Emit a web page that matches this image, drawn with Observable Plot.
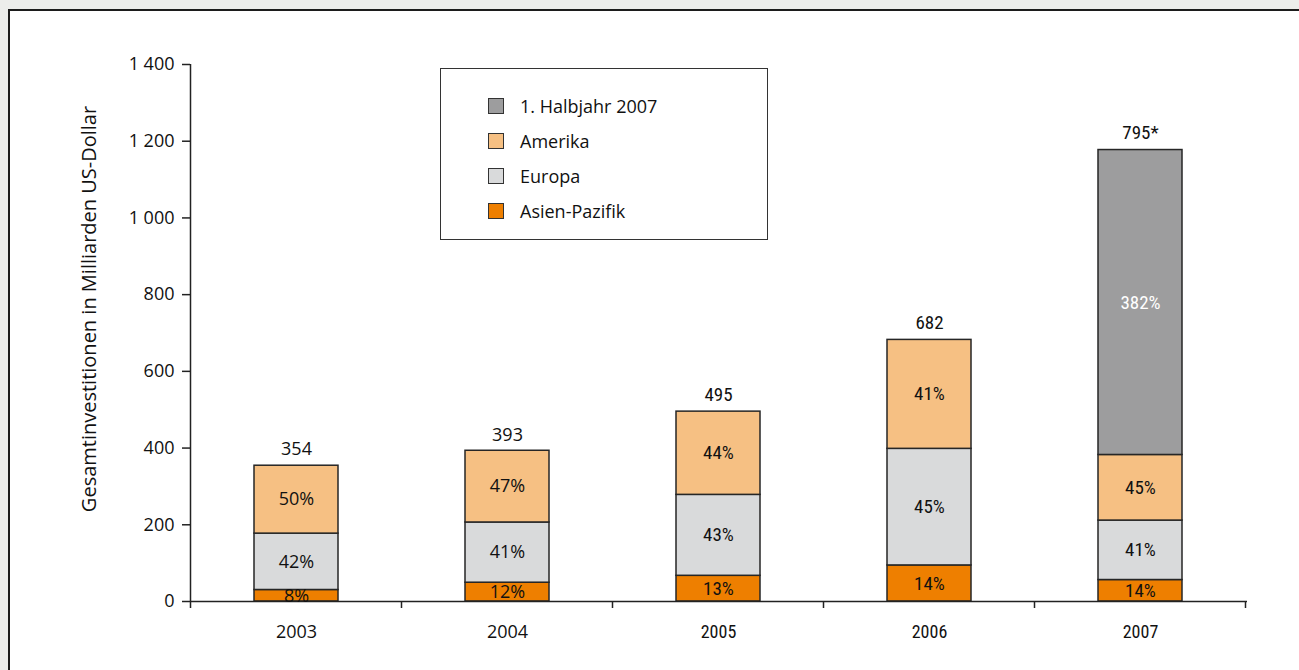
<!DOCTYPE html>
<html>
<head>
<meta charset="utf-8">
<script src="https://cdn.jsdelivr.net/npm/d3@7"></script>
<script src="https://cdn.jsdelivr.net/npm/@observablehq/plot@0.6"></script>
<style>
  html, body { margin: 0; padding: 0; }
  body { background: #ecedeb; width: 1299px; height: 670px; overflow: hidden; font-family: "Open Sans", sans-serif; position: relative; }
  #panel { position: absolute; left: 8px; top: 9px; right: 0; bottom: 0; background: #fff; border-top: 2px solid #1c1c1c; border-left: 2px solid #1c1c1c; }
  #chart { position: absolute; left: 0; top: 0; }
  #legend { position: absolute; left: 430px; top: 57px; width: 328px; height: 172px; border: 1.5px solid #333; background: #fff; box-sizing: border-box; }
  .item { position: absolute; left: 47px; height: 20px; display: flex; align-items: center; font-size: 18px; color: #111; }
  .sw { width: 14px; height: 14px; border: 1px solid #333; margin-right: 16px; }
</style>
</head>
<body>
<div id="panel">
  <div id="chart"></div>
  <div id="legend"></div>
</div>
<script>
// ---- data ----
const years = ["2003", "2004", "2005", "2006", "2007"];
const regions = ["Asien-Pazifik", "Europa", "Amerika", "1. Halbjahr 2007"];
const legendOrder = ["1. Halbjahr 2007", "Amerika", "Europa", "Asien-Pazifik"];
const regionColors = ["#ee7f00", "#d9dadb", "#f6c083", "#9d9d9e"];
const asien    = [30, 49, 67, 94, 56];
const europa   = [147, 157, 211, 304, 155];
const amerika  = [177, 187, 217, 284, 171];
const halbjahr = [0, 0, 0, 0, 795];
const asienPct    = ["8%", "12%", "13%", "14%", "14%"];
const europaPct   = ["42%", "41%", "43%", "45%", "41%"];
const amerikaPct  = ["50%", "47%", "44%", "41%", "45%"];
const halbjahrPct = ["", "", "", "", "382%"];
const totalLabels = ["354", "393", "495", "682", "795*"];
const yTicks = [0, 200, 400, 600, 800, 1000, 1200, 1400];
const yLabel = "Gesamtinvestitionen in Milliarden US-Dollar";
const condensedYears = ["2005", "2006", "2007"];

// ---- table ----
const seriesValues = [asien, europa, amerika, halbjahr];
const seriesPct = [asienPct, europaPct, amerikaPct, halbjahrPct];
const rows = years.flatMap((year, i) =>
  regions.map((region, k) => ({ year, region, value: seriesValues[k][i], pct: seriesPct[k][i] }))
).filter(d => d.value > 0);
const totals = years.map((year, i) => ({
  year,
  total: d3.sum(seriesValues, s => s[i]),
  label: totalLabels[i]
}));

const normalFont = "'Open Sans', sans-serif";
const narrowFont = "'Liberation Sans Narrow', 'Roboto Condensed', 'Open Sans', sans-serif";
const H = "1. Halbjahr 2007";

function pctMark(test, fill, font, size) {
  return Plot.text(rows, Plot.filter(test, Plot.stackY({
    x: "year", y: "value", z: "region", text: "pct",
    fill, fontSize: size, fontFamily: font
  })));
}

// custom axis lines: vertical y axis and boundary ticks between bands
function axisLines(index, scales, values, dims) {
  const x = scales.x, y = scales.y;
  const g = d3.create("svg:g").attr("stroke", "#222").attr("stroke-width", 1.5).attr("fill", "none");
  const bw = typeof x.bandwidth === "function" ? x.bandwidth() : 0;
  const step = typeof x.step === "function" ? x.step() : (dims.width - dims.marginLeft - dims.marginRight) / years.length;
  const x0 = x(years[0]) - (step - bw) / 2;
  const y0 = y(0), yTop = y(d3.max(yTicks));
  g.append("line").attr("x1", x0).attr("x2", x0).attr("y1", yTop).attr("y2", y0 + 7);
  for (let i = 1; i <= years.length; i++) {
    const xb = x0 + i * step;
    g.append("line").attr("x1", xb).attr("x2", xb).attr("y1", y0).attr("y2", y0 + 7);
  }
  return g.node();
}

const chart = Plot.plot({
  width: 1289,
  height: 659,
  marginLeft: 180,
  marginRight: 52,
  marginTop: 53,
  marginBottom: 69,
  style: { fontFamily: normalFont, color: "#111", background: "transparent", overflow: "visible" },
  x: { domain: years, paddingInner: 0.6, paddingOuter: 0.3, label: null },
  y: { domain: [0, 1400], label: null },
  color: { domain: regions, range: regionColors },
  marks: [
    Plot.axisY({ ticks: yTicks, tickSize: 8, tickPadding: 8, fontSize: 18, stroke: "#222", strokeWidth: 1.5,
      tickFormat: d => d3.format(",")(d).replace(/,/g, " ") }),
    Plot.axisX({ tickSize: 0, tickPadding: 24, fontSize: 18, fontFamily: normalFont,
      filter: d => !condensedYears.includes(d) }),
    Plot.axisX({ tickSize: 0, tickPadding: 24, fontSize: 18, fontFamily: narrowFont,
      filter: d => condensedYears.includes(d) }),
    Plot.barY(rows, { x: "year", y: "value", fill: "region", stroke: "#262626", strokeWidth: 1.5 }),
    Plot.ruleY([0], { stroke: "#222", strokeWidth: 1.5 }),
    axisLines,
    pctMark(d => d.region !== H && !condensedYears.includes(d.year), "#111", normalFont, 18),
    pctMark(d => d.region !== H && condensedYears.includes(d.year), "#111", narrowFont, 19),
    pctMark(d => d.region === H, "white", narrowFont, 19),
    Plot.text(totals, { x: "year", y: "total", text: "label", dy: -16, fontSize: 18,
      fontFamily: normalFont, filter: d => !condensedYears.includes(d.year) }),
    Plot.text(totals, { x: "year", y: "total", text: "label", dy: -17, fontSize: 19,
      fontFamily: narrowFont, filter: d => condensedYears.includes(d.year) }),
    Plot.text([yLabel], { frameAnchor: "left", textAnchor: "middle", dx: -101, dy: -24, rotate: -90,
      fontSize: 20, fill: "#111" })
  ]
});
document.getElementById("chart").appendChild(chart);

// legend
const legend = document.getElementById("legend");
const colorOf = Object.fromEntries(regions.map((r, i) => [r, regionColors[i]]));
legendOrder.forEach((r, i) => {
  const it = document.createElement("div");
  it.className = "item";
  it.style.top = (27 + i * 35) + "px";
  it.innerHTML = `<span class="sw" style="background:${colorOf[r]}"></span><span>${r}</span>`;
  legend.appendChild(it);
});
</script>
</body>
</html>
